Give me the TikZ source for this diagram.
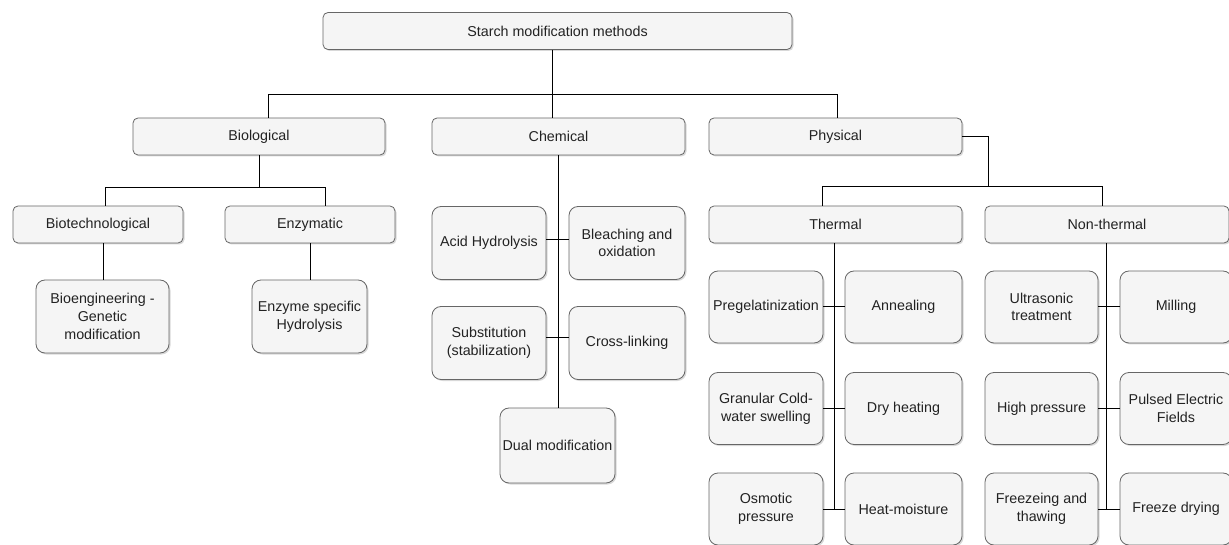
\documentclass[tikz,border=0pt]{standalone}
\usepackage{fontspec}
\setmainfont{Liberation Sans}
\usepackage{xcolor}
\definecolor{boxfill}{HTML}{F5F5F5}
\definecolor{boxline}{HTML}{666666}
\definecolor{boxtext}{HTML}{222222}
\usetikzlibrary{shapes,calc,shadows}

\begin{document}
\begin{tikzpicture}[x=1pt, y=-1pt,
  headbox/.style={rectangle, draw=boxline, fill=boxfill, text=boxtext, line width=0.8pt, rounded corners=5pt, minimum height=37pt, inner sep=1pt, font=\fontsize{14.3}{17.7}\selectfont, drop shadow={shadow xshift=1.5pt, shadow yshift=-1.5pt, fill=black!30}},
  leafbox/.style={headbox, rounded corners=9pt, minimum height=73pt, align=center},
  link/.style={line width=1pt, black}
]
\useasboundingbox (0,0) rectangle (1229,545);
\clip (0,0) rectangle (1229,545);

% Root
\node[headbox, minimum width=469pt] (root) at (557.5, 31) {Starch modification methods};

% Categories
\node[headbox, minimum width=252pt] (bio) at (259, 136.5) {Biological};
\node[headbox, minimum width=253pt] (chem) at (558.5, 136.5) {Chemical};
\node[headbox, minimum width=253pt] (phys) at (835.5, 136.5) {Physical};

% Biological
\node[headbox, minimum width=170pt] (biotech) at (98, 224.5) {Biotechnological};
\node[headbox, minimum width=170pt] (enz) at (310, 224.5) {Enzymatic};
\node[leafbox, minimum width=133pt] (bioeng) at (102.5, 316.5) {Bioengineering -\\Genetic\\modification};
\node[leafbox, minimum width=115pt] (enzspec) at (309.5, 316.5) {Enzyme specific\\Hydrolysis};

% Chemical
\node[leafbox, minimum width=114pt] (acid) at (489, 243) {Acid Hydrolysis};
\node[leafbox, minimum width=116pt] (bleach) at (627, 243) {Bleaching and\\oxidation};
\node[leafbox, minimum width=114pt] (subst) at (489, 343) {Substitution\\(stabilization)};
\node[leafbox, minimum width=116pt] (cross) at (627, 343) {Cross-linking};
\node[leafbox, minimum width=115pt, minimum height=75pt] (dual) at (557.5, 445.5) {Dual modification};

% Physical
\node[headbox, minimum width=253pt] (therm) at (835.5, 224.5) {Thermal};
\node[headbox, minimum width=244pt] (nontherm) at (1107, 224.5) {Non-thermal};

% Thermal
\node[leafbox, minimum width=114pt, minimum height=72pt] (preg) at (766, 307) {Pregelatinization};
\node[leafbox, minimum width=117pt, minimum height=72pt] (anneal) at (903.5, 307) {Annealing};
\node[leafbox, minimum width=114pt, minimum height=72pt] (gran) at (766, 408.5) {Granular Cold-\\water swelling};
\node[leafbox, minimum width=117pt, minimum height=72pt] (dry) at (903.5, 408.5) {Dry heating};
\node[leafbox, minimum width=114pt, minimum height=72pt] (osmo) at (766, 509) {Osmotic\\pressure};
\node[leafbox, minimum width=117pt, minimum height=72pt] (heatm) at (903.5, 509) {Heat-moisture};

% Non-thermal
\node[leafbox, minimum width=113pt, minimum height=72pt] (ultra) at (1041.5, 307) {Ultrasonic\\treatment};
\node[leafbox, minimum width=112pt, minimum height=72pt] (mill) at (1176, 307) {Milling};
\node[leafbox, minimum width=113pt, minimum height=72pt] (highp) at (1041.5, 408.5) {High pressure};
\node[leafbox, minimum width=112pt, minimum height=72pt] (pulsed) at (1176, 408.5) {Pulsed Electric\\Fields};
\node[leafbox, minimum width=113pt, minimum height=72pt] (freezet) at (1041.5, 509) {Freezeing and\\thawing};
\node[leafbox, minimum width=112pt, minimum height=72pt] (freezed) at (1176, 509) {Freeze drying};

% Connections
\draw[link] ([xshift=-5.5pt]root.south) -- ([xshift=-5.5pt]root.south |- chem.north);
\draw[link] ([xshift=9pt]bio.north) -- ++(0,-23) -| ([xshift=1.5pt]phys.north);
\draw[link] (bio.south) -- ++(0,32) -| ([xshift=7pt]biotech.north);
\draw[link] (bio.south) -- ++(0,32) -| ([xshift=15pt]enz.north);
\draw[link] ([xshift=5pt]biotech.south) -- ([xshift=5pt]biotech.south |- bioeng.north);
\draw[link] (enz.south) -- (enz.south |- enzspec.north);

\draw[link] (chem.south) -- (chem.south |- dual.north);
\draw[link] ([yshift=3pt]acid.east) -- ([yshift=3pt]bleach.west);
\draw[link] ([yshift=5pt]subst.east) -- ([yshift=5pt]cross.west);

\coordinate (physjoin) at (988, 187);
\draw[link] (phys.east) -| (physjoin) -| ([xshift=-13.5pt]therm.north);
\draw[link] (physjoin) -| ([xshift=-5pt]nontherm.north);

\draw[link] ([xshift=-1.5pt]therm.south) -- ([xshift=-1.5pt]therm.south |- osmo.east);
\draw[link] (preg.east) -- (anneal.west);
\draw[link] (gran.east) -- (dry.west);
\draw[link] (osmo.east) -- (heatm.west);

\draw[link] ([xshift=-1pt]nontherm.south) -- ([xshift=-1pt]nontherm.south |- freezet.east);
\draw[link] (ultra.east) -- (mill.west);
\draw[link] (highp.east) -- (pulsed.west);
\draw[link] (freezet.east) -- (freezed.west);

\end{tikzpicture}
\end{document}
